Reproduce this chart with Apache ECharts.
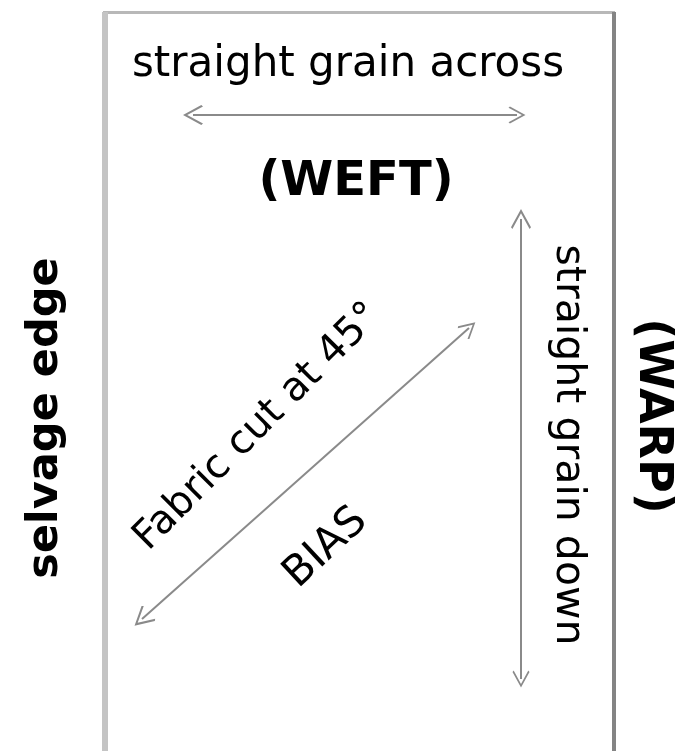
<!DOCTYPE html>
<html>
<head>
<meta charset="utf-8">
<script src="https://cdn.jsdelivr.net/npm/echarts@6/dist/echarts.min.js"></script>
<style>
html,body{margin:0;padding:0;background:#fff;}
#chart{width:675px;height:751px;}
</style>
</head>
<body>
<div id="chart"></div>
<script>
// Diagram coordinates (pixel-like units on hidden value axes)
const topEdge = [[103, 12], [615, 12]];
const leftEdge = [[105, 12], [105, 760]];
const rightEdge = [[614, 12], [614, 760]];

// arrow shaft end points (heads are centred on these)
const arrowAcross = [[193, 115], [517, 115]];
const arrowDown = [[521, 219], [521, 679]];
const arrowBias = [[142, 619], [469, 328]];

const labelTexts = ['straight grain across', '(WEFT)', 'straight grain down', '(WARP)', 'selvage edge', 'Fabric cut at 45°', 'BIAS'];
const labelX = [348, 356, 568, 652, 46, 258, 326];
const labelY = [65, 183, 445, 416, 418, 427, 548];
const labelRotate = [0, 0, -90, -90, 90, 45, 43];
const labelBold = [false, true, false, true, true, false, false];
const labelSize = [42, 48, 41, 46, 43, 40, 42];

const chevron = 'path://M0,0 L10,13 L8.6,14.2 L0,3 L-8.6,14.2 L-10,13 Z';

const chart = echarts.init(document.getElementById('chart'), null, {renderer: 'canvas'});

const labelData = labelTexts.map((t, i) => ({
  value: [labelX[i], labelY[i]],
  name: t,
  label: {
    show: true,
    formatter: t,
    position: 'inside',
    align: 'center',
    verticalAlign: 'middle',
    rotate: labelRotate[i],
    fontFamily: 'DejaVu Sans',
    fontWeight: labelBold[i] ? 'bold' : 'normal',
    fontSize: labelSize[i],
    color: '#000000',
    textBorderWidth: 0
  }
}));

chart.setOption({
  backgroundColor: '#ffffff',
  animation: false,
  grid: {left: 0, right: 0, top: 0, bottom: 0, containLabel: false},
  xAxis: {type: 'value', min: 0, max: 675, show: false},
  yAxis: {type: 'value', min: 0, max: 751, inverse: true, show: false},
  series: [
    {
      type: 'lines', coordinateSystem: 'cartesian2d', silent: true,
      symbol: ['none', 'none'],
      lineStyle: {color: '#b8b8b8', width: 3, opacity: 1},
      data: [{coords: topEdge}]
    },
    {
      type: 'lines', coordinateSystem: 'cartesian2d', silent: true,
      symbol: ['none', 'none'],
      lineStyle: {color: '#c4c4c4', width: 6, opacity: 1},
      data: [{coords: leftEdge}]
    },
    {
      type: 'lines', coordinateSystem: 'cartesian2d', silent: true,
      symbol: ['none', 'none'],
      lineStyle: {color: '#848484', width: 4, opacity: 1},
      data: [{coords: rightEdge}]
    },
    {
      type: 'lines', coordinateSystem: 'cartesian2d', silent: true,
      symbol: [chevron, chevron],
      symbolSize: [20, 17],
      lineStyle: {color: '#8a8a8a', width: 2, opacity: 1},
      data: [{coords: arrowAcross}, {coords: arrowDown}, {coords: arrowBias}]
    },
    {
      type: 'scatter', silent: true,
      symbolSize: 0,
      itemStyle: {opacity: 1},
      data: labelData
    }
  ]
});
</script>
</body>
</html>
